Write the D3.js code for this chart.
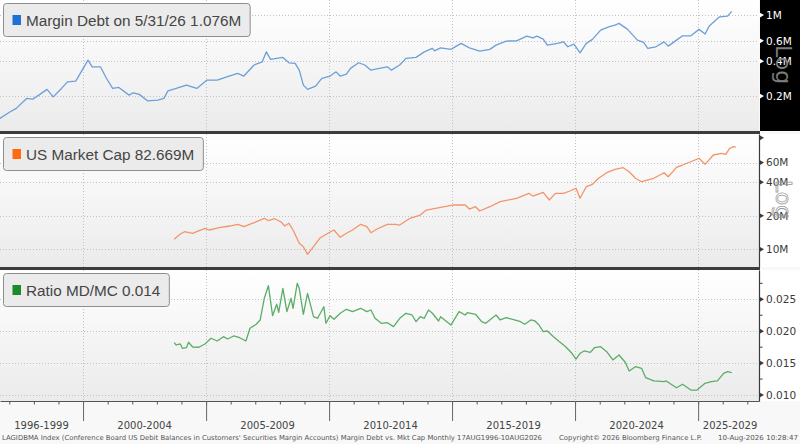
<!DOCTYPE html>
<html>
<head>
<meta charset="utf-8">
<script src="https://d3js.org/d3.v7.min.js"></script>
<style>
  body { margin: 0; background: #fff; }
  svg { display: block; font-family: "DejaVu Sans", sans-serif; }
</style>
</head>
<body>
<svg id="chart" width="800" height="444"></svg>
<script>
// ---- data ----
const debtMonths = ["1996-08","1997-01","1997-04","1997-09","1997-12","1998-03","1998-07","1998-10","1999-02","1999-05","1999-09",
  "2000-03","2000-05","2000-09","2000-12","2001-03","2001-06","2001-11","2002-01","2002-04","2002-08","2003-01","2003-04","2003-06",
  "2003-10","2004-03","2004-08","2005-01","2005-06","2005-11","2006-04","2006-07","2006-12","2007-04","2007-06","2007-08","2007-11",
  "2008-02","2008-05","2008-08","2008-10","2008-12","2009-02","2009-06","2009-09","2010-01","2010-04","2010-06","2010-09","2010-11",
  "2011-03","2011-06","2011-09","2012-01","2012-05","2012-07","2012-11","2013-02","2013-07","2013-11","2014-03","2014-04","2014-07",
  "2014-12","2015-05","2015-09","2016-02","2016-07","2016-10","2017-03","2017-08","2018-01","2018-04","2018-06","2018-09","2018-11",
  "2019-04","2019-07","2019-09","2019-12","2020-03","2020-06","2020-09","2021-01","2021-05","2021-08","2021-10","2022-02","2022-07",
  "2022-10","2022-12","2023-04","2023-08","2023-10","2024-02","2024-05","2024-09","2025-01","2025-04","2025-06","2025-11","2026-03","2026-05"];
const debtValues = [0.1285,0.1465,0.1567,0.191,0.1884,0.204,0.2285,0.197,0.233,0.2657,0.2695,
  0.409,0.358,0.358,0.284,0.233,0.2377,0.204,0.2136,0.207,0.1823,0.1848,0.191,0.222,
  0.233,0.249,0.233,0.275,0.275,0.294,0.314,0.298,0.371,0.395,0.482,0.415,0.423,
  0.4315,0.3877,0.383,0.335,0.249,0.2285,0.244,0.284,0.298,0.324,0.298,0.31,0.347,
  0.388,0.371,0.335,0.347,0.358,0.335,0.371,0.423,0.4315,0.482,0.516,0.492,0.522,
  0.506,0.570,0.522,0.489,0.506,0.551,0.597,0.600,0.659,0.637,0.659,0.621,0.551,
  0.570,0.588,0.533,0.562,0.473,0.570,0.617,0.743,0.793,0.820,0.848,0.757,0.608,
  0.581,0.516,0.533,0.588,0.540,0.608,0.663,0.663,0.753,0.686,0.804,0.967,0.980,1.076];

const capMonths = ["2003-09","2003-12","2004-02","2004-06","2004-08","2004-12","2005-02","2005-07","2005-12","2006-04","2006-07",
  "2006-12","2007-05","2007-07","2007-10","2008-01","2008-03","2008-05","2008-07","2008-10","2008-12","2009-02","2009-05","2009-08",
  "2009-12","2010-03","2010-06","2010-09","2010-12","2011-04","2011-07","2011-09","2011-12","2012-05","2012-09","2012-11","2013-04",
  "2013-09","2013-12","2014-07","2015-01","2015-07","2015-09","2015-12","2016-02","2016-07","2016-12","2017-08","2018-02","2018-04",
  "2018-09","2018-12","2019-03","2019-07","2019-10","2020-01","2020-03","2020-06","2020-09","2020-12","2021-04","2021-08","2021-12",
  "2022-03","2022-06","2022-09","2023-03","2023-08","2023-10","2024-02","2024-05","2024-11","2025-01","2025-04","2025-08","2025-12",
  "2026-02","2026-04","2026-06","2026-07"];
const capValues = [12.29,13.72,14.38,13.92,14.38,15.43,14.90,15.62,16.18,16.76,15.95,
  17.32,18.97,18.05,18.81,17.68,16.18,17.11,14.90,11.32,10.55,9.02,10.55,12.55,
  13.92,14.90,12.81,13.92,14.90,16.76,15.95,14.09,15.21,16.76,16.76,16.51,18.97,
  20.30,22.51,23.81,24.96,24.96,22.98,24.10,22.06,24.10,26.73,28.67,31.78,30.06,
  32.45,27.68,31.78,31.78,33.34,35.26,28.67,36.43,38.28,43.34,48.64,52.19,53.94,
  49.65,43.34,40.40,43.34,48.64,44.79,54.39,57.02,63.22,65.47,57.85,70.12,72.61,
  71.12,80.51,83.21,82.67];

const ratioMonths = ["2003-09","2003-10","2003-12","2004-01","2004-03","2004-04","2004-06","2004-09","2004-12","2005-03","2005-06",
  "2005-09","2005-11","2006-02","2006-05","2006-08","2006-10","2007-01","2007-03","2007-05","2007-07","2007-09","2007-11","2007-12",
  "2008-02","2008-04","2008-06","2008-07","2008-09","2008-10","2008-12","2009-02","2009-05","2009-07","2009-10","2009-11","2010-01",
  "2010-03","2010-06","2010-09","2010-12","2011-04","2011-07","2011-09","2011-11","2012-02","2012-05","2012-08","2012-11","2013-02",
  "2013-05","2013-07","2013-09","2013-11","2014-01","2014-03","2014-06","2014-07","2014-10","2014-12","2015-01","2015-04","2015-07",
  "2015-08","2015-12","2016-03","2016-05","2016-10","2016-12","2017-03","2017-07","2017-10","2017-12","2018-03","2018-05","2018-07",
  "2018-09","2018-11","2019-02","2019-05","2019-08","2019-11","2020-01","2020-03","2020-05","2020-08","2020-10","2021-01","2021-04",
  "2021-07","2021-10","2022-01","2022-03","2022-06","2022-09","2022-11","2023-03","2023-08","2023-09","2024-02","2024-05","2024-09",
  "2024-12","2025-04","2025-07","2025-10","2026-01","2026-03","2026-05"];
const ratioValues = [0.0182,0.01784,0.0180,0.01732,0.01741,0.01826,0.01752,0.01748,0.0180,0.01889,0.01846,
  0.01914,0.01878,0.01925,0.01898,0.01846,0.02045,0.02108,0.02176,0.02516,0.02713,0.02243,0.02422,0.02296,
  0.02672,0.02306,0.02516,0.02359,0.02751,0.02672,0.02265,0.02594,0.02227,0.02202,0.02384,0.02124,0.02243,
  0.02187,0.02281,0.02343,0.02306,0.02359,0.02306,0.02332,0.02202,0.02124,0.02133,0.02071,0.02202,0.02281,
  0.02254,0.02149,0.02227,0.02202,0.02332,0.02281,0.0216,0.02227,0.02149,0.02097,0.02149,0.02306,0.02254,
  0.0229,0.02265,0.02149,0.02124,0.02254,0.02176,0.02212,0.02176,0.02149,0.02108,0.02176,0.0216,0.02097,
  0.01992,0.02003,0.01914,0.01835,0.01757,0.01654,0.01564,0.01654,0.0169,0.01669,0.01741,0.01757,0.01679,
  0.01549,0.01627,0.01513,0.01376,0.01444,0.01419,0.01271,0.0122,0.01209,0.0122,0.01114,0.01168,0.01078,
  0.01078,0.01183,0.01209,0.0122,0.0134,0.01365,0.0135];

const seriesNames = ["Margin Debt on 5/31/26 1.076M", "US Market Cap 82.669M", "Ratio MD/MC 0.014"];
const debtTicks = [0.2, 0.4, 0.6, 1];
const capTicks = [10, 20, 40, 60];
const ratioTicks = [0.010, 0.015, 0.020, 0.025];
const ratioMinorTicks = [0.0125, 0.0175, 0.0225, 0.0275];
const periodLabels = ["1996-1999","2000-2004","2005-2009","2010-2014","2015-2019","2020-2024","2025-2029"];
const footerTexts = ["LAGIDBMA Index (Conference Board US Debit Balances in Customers' Securities Margin Accounts) Margin Debt vs. Mkt Cap Monthly 17AUG1996-10AUG2026",
  "Copyright\u00A9 2026 Bloomberg Finance L.P.", "10-Aug-2026 10:28:47"];

// ---- setup ----
const W = 800, plotRight = 759;
const parseMonth = d3.timeParse("%Y-%m");
function series(months, values) {
  return months.map((m, i) => ({ date: d3.timeDay.offset(parseMonth(m), 14), value: values[i] }));
}

const svg = d3.select("#chart");
const defs = svg.append("defs");
const grad = defs.append("linearGradient").attr("id", "bg")
  .attr("x1", 0).attr("y1", 0).attr("x2", 0).attr("y2", 1);
grad.append("stop").attr("offset", "0%").attr("stop-color", "#ffffff");
grad.append("stop").attr("offset", "100%").attr("stop-color", "#ebebeb");

svg.append("rect").attr("width", W).attr("height", 444).attr("fill", "#f8f8f8");

const x = d3.scaleTime()
  .domain([new Date(1996, 7, 16), new Date(2027, 5, 24)])
  .range([0, plotRight]);
const fiveYears = d3.range(2000, 2026, 5).map(y => new Date(y, 0, 1));

const panels = [
  { top: 0, bottom: 131, y: d3.scaleLog().domain([0.1, 1.35]), ticks: debtTicks, fmt: d => d + "M",
    data: series(debtMonths, debtValues), stroke: "#6d9fd9", key: "#1e73d2", name: seriesNames[0], dark: true, log: true },
  { top: 134, bottom: 267, y: d3.scaleLog().domain([6.94, 108.2]), ticks: capTicks, fmt: d => d + "M",
    data: series(capMonths, capValues), stroke: "#f2956a", key: "#ff6a13", name: seriesNames[1], dark: false, log: true, extra: [100] },
  { top: 270, bottom: 401, y: d3.scaleLinear().domain([0.00906, 0.02959]), ticks: ratioTicks, fmt: d3.format(".3f"),
    data: series(ratioMonths, ratioValues), stroke: "#5aad68", key: "#1b8c2a", name: seriesNames[2], dark: false, log: false, minor: ratioMinorTicks }
];

panels.forEach(p => {
  p.y.range([p.bottom, p.top]);
  const g = svg.append("g");

  g.append("rect").attr("x", 0).attr("y", p.top)
    .attr("width", plotRight).attr("height", p.bottom - p.top).attr("fill", "url(#bg)");

  g.selectAll(null).data(fiveYears).enter().append("line")
    .attr("x1", d => Math.round(x(d)) + 0.5).attr("x2", d => Math.round(x(d)) + 0.5)
    .attr("y1", p.top).attr("y2", p.bottom)
    .attr("stroke", "#c2c2c2").attr("stroke-dasharray", "1,2");

  g.selectAll(null).data(p.ticks).enter().append("line")
    .attr("x1", 0).attr("x2", plotRight)
    .attr("y1", d => Math.round(p.y(d)) + 0.5).attr("y2", d => Math.round(p.y(d)) + 0.5)
    .attr("stroke", "#c2c2c2").attr("stroke-dasharray", "1,2");

  g.append("path").datum(p.data)
    .attr("d", d3.line().x(d => x(d.date)).y(d => p.y(d.value)))
    .attr("fill", "none").attr("stroke", p.stroke)
    .attr("stroke-width", 1.3).attr("stroke-linejoin", "round");

  // right axis
  const fg = p.dark ? "#ffffff" : "#3a3a3a";
  if (p.dark) {
    svg.append("rect").attr("x", plotRight + 1).attr("y", p.top)
      .attr("width", W - plotRight - 1).attr("height", p.bottom - p.top).attr("fill", "#000");
  } else {
    svg.append("rect").attr("x", plotRight + 1).attr("y", p.top)
      .attr("width", W - plotRight - 1).attr("height", p.bottom - p.top).attr("fill", "#fff");
  }
  const ax = svg.append("g").attr("transform", `translate(${plotRight},0)`)
    .call(d3.axisRight(p.y).tickValues(p.ticks).tickFormat(p.fmt).tickSize(0).tickSizeOuter(0).tickPadding(7));
  ax.select(".domain").attr("stroke", p.dark ? "none" : "#3a3a3a").attr("stroke-width", 1.2);
  ax.selectAll("text").attr("fill", fg).attr("font-size", 10.5)
    .attr("font-family", "'DejaVu Sans', sans-serif");

  const marks = p.ticks.concat(p.extra || []);
  ax.selectAll(null).data(marks).enter().append("path")
    .attr("d", d => `M0.5,${p.y(d) - 2.6}L5,${p.y(d)}L0.5,${p.y(d) + 2.6}Z`)
    .attr("fill", fg);
  if (p.minor) {
    ax.selectAll(null).data(p.minor).enter().append("line")
      .attr("x1", 0).attr("x2", 3.5).attr("y1", d => p.y(d)).attr("y2", d => p.y(d))
      .attr("stroke", fg).attr("stroke-width", 1);
  }

  if (p.log) {
    const lg = svg.append("text")
      .attr("transform", `translate(776,${p.top + (p.dark ? 45 : 46)}) rotate(90)`)
      .attr("font-size", 22).attr("font-family", "'DejaVu Sans', sans-serif")
      .text("Log");
    if (p.dark) lg.attr("fill", "#7c7c7c");
    else lg.attr("fill", "none").attr("stroke", "#9a9a9a").attr("stroke-width", 0.8);
  }

  // legend
  const lgd = svg.append("g").attr("transform", `translate(3,${p.top + 3.5})`);
  const box = lgd.append("rect").attr("x", 0.5).attr("y", 0).attr("height", 33).attr("rx", 3)
    .attr("fill", "#ebebeb").attr("stroke", "#8e8e8e");
  lgd.append("rect").attr("x", 9.5).attr("y", 11.5).attr("width", 8.5).attr("height", 10).attr("fill", p.key);
  const t = lgd.append("text").attr("x", 23).attr("y", 22.5)
    .attr("font-family", "'Liberation Sans', Arial, sans-serif").attr("font-size", 15.3)
    .attr("fill", "#454545").text(p.name);
  box.attr("width", t.node().getComputedTextLength() + 31.5);
});

// dividers
[131, 267].forEach(yy => {
  svg.append("rect").attr("x", 0).attr("y", yy).attr("width", plotRight + 1).attr("height", 3).attr("fill", "#3c3c3c");
});

// bottom axis
const xAxisY = 401;
const minorAx = svg.append("g").attr("transform", `translate(0,${xAxisY})`)
  .call(d3.axisBottom(x).ticks(d3.timeYear.every(1)).tickSize(3.5).tickSizeOuter(0).tickFormat(""));
minorAx.select(".domain").attr("stroke", "#555");
minorAx.selectAll(".tick line").attr("stroke", "#555");
const majorAx = svg.append("g").attr("transform", `translate(0,${xAxisY})`)
  .call(d3.axisBottom(x).tickValues(fiveYears).tickSize(20).tickFormat(""));
majorAx.select(".domain").remove();
majorAx.selectAll(".tick line").attr("stroke", "#666");

const bounds = [x.domain()[0]].concat(fiveYears, [x.domain()[1]]);
svg.selectAll(null).data(periodLabels).enter().append("text")
  .attr("x", (d, i) => (x(bounds[i]) + x(bounds[i + 1])) / 2 + (i === periodLabels.length - 1 ? 1.5 : 0))
  .attr("y", 428.5)
  .attr("text-anchor", "middle").attr("font-size", 10).attr("fill", "#444")
  .text(d => d);

const footX = [2, 559, 718], footW = [540, 143, 80];
svg.selectAll(null).data(footerTexts).enter().append("text")
  .attr("x", (d, i) => footX[i]).attr("y", 439.5)
  .attr("font-size", 6.8).attr("fill", "#555")
  .attr("textLength", (d, i) => footW[i]).attr("lengthAdjust", "spacingAndGlyphs")
  .text(d => d);
</script>
</body>
</html>
